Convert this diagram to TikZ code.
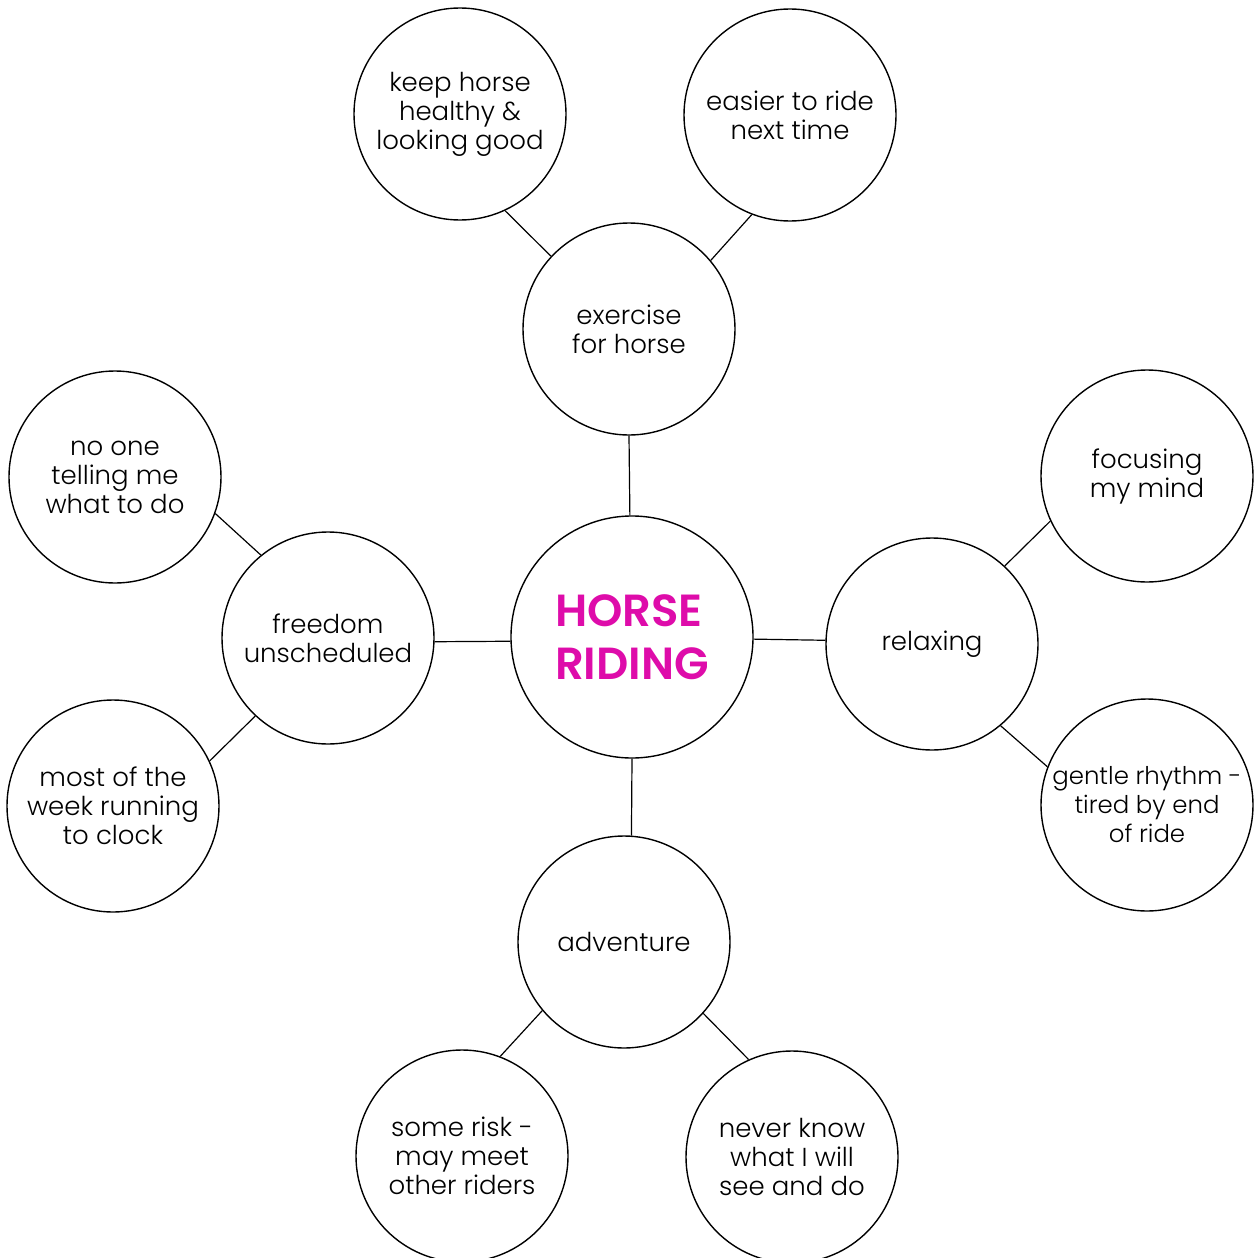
\documentclass[tikz,border=0pt]{standalone}
\usepackage{fontspec}
\setmainfont{Poppins}[UprightFont={* Light},BoldFont={* SemiBold}]
\usepackage{xcolor}
\usepackage{tikz}
\usetikzlibrary{shapes}
\definecolor{ridingpink}{RGB}{222,12,170}

\begin{document}
\begin{tikzpicture}[scale=0.5,
    bubble/.style={draw,circle,line width=0.7pt,minimum size=106bp,inner sep=0pt,align=center,font=\fontsize{13bp}{14.5bp}\selectfont},
    hub/.style={draw,circle,line width=0.7pt,minimum size=121bp,inner sep=0pt,align=left,text=ridingpink,font=\fontsize{22.5bp}{26.5bp}\selectfont\bfseries},
    link/.style={line width=0.6pt}]

    \useasboundingbox (0bp,0bp) rectangle (1254bp,-1258bp);

    \node (riding) at (632bp,-637bp)[hub] {HORSE\\RIDING};

    \node (exercise) at (629bp,-329bp)[bubble] {exercise\\for horse};
    \node (healthy) at (460bp,-114bp)[bubble] {keep horse\\healthy \&\\looking good};
    \node (easier) at (790bp,-115bp)[bubble] {easier to ride\\next time};

    \node (freedom) at (328bp,-638bp)[bubble] {freedom\\unscheduled};
    \node (noone) at (115bp,-477bp)[bubble] {no one\\telling me\\what to do};
    \node (week) at (113bp,-806bp)[bubble] {most of the\\week running\\to clock};

    \node (relaxing) at (932bp,-644bp)[bubble] {relaxing};
    \node (focusing) at (1147bp,-476bp)[bubble] {focusing\\my mind};
    \node (rhythm) at (1147bp,-805bp)[bubble,font=\fontsize{12.2bp}{14.5bp}\selectfont] {gentle rhythm -\\tired by end\\of ride};

    \node (adventure) at (624bp,-942bp)[bubble] {adventure};
    \node (risk) at (462bp,-1156bp)[bubble] {some risk -\\may meet\\other riders};
    \node (never) at (792bp,-1157bp)[bubble] {never know\\what I will\\see and do};

    % spokes from the hub
    \draw [link] (riding.91) to (exercise.-90);
    \draw [link] (riding.-178) to (freedom.-2);
    \draw [link] (riding.-1) to (relaxing.178);
    \draw [link] (riding.south) to (adventure.86);
    % outer branches
    \draw [link] (exercise.137) to (healthy.-65);
    \draw [link] (exercise.40) to (easier.-111);
    \draw [link] (freedom.129) to (noone.-20);
    \draw [link] (freedom.-133) to (week.25);
    \draw [link] (relaxing.47) to (focusing.-155);
    \draw [link] (relaxing.-50) to (rhythm.159);
    \draw [link] (adventure.-140) to (risk.69);
    \draw [link] (adventure.-42) to (never.114);
\end{tikzpicture}
\end{document}
